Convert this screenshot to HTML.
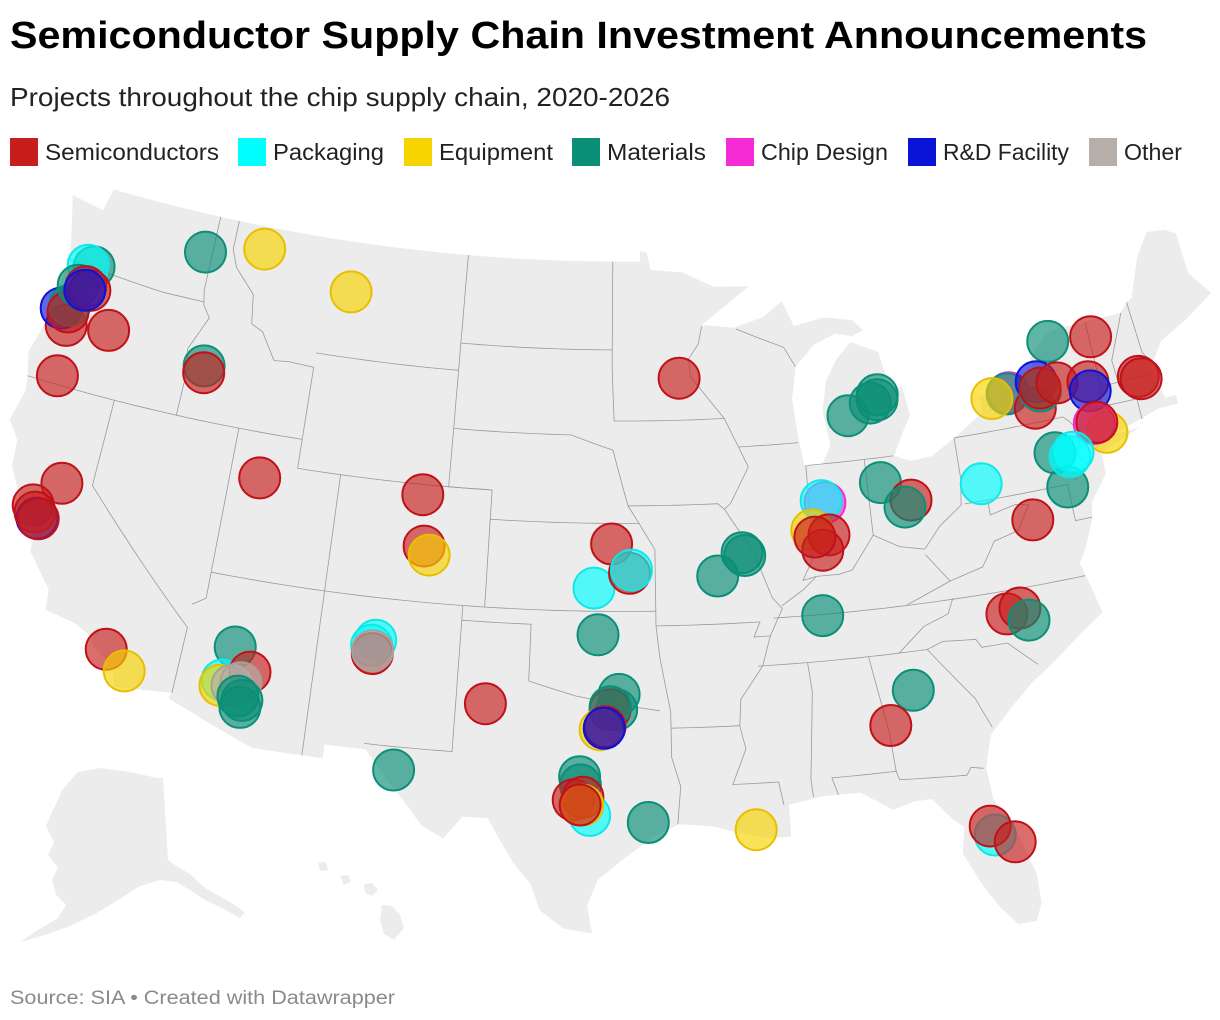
<!DOCTYPE html>
<html><head><meta charset="utf-8"><style>
html,body{margin:0;padding:0;background:#fff;}
svg{display:block;font-family:"Liberation Sans",Arial,sans-serif;}
</style></head><body>
<svg id="chart" width="1220" height="1020" viewBox="0 0 1220 1020" xmlns="http://www.w3.org/2000/svg">
<text x="10" y="48" font-size="38" font-weight="bold" fill="#000" textLength="1137" lengthAdjust="spacingAndGlyphs">Semiconductor Supply Chain Investment Announcements</text>
<text x="10" y="106" font-size="26" fill="#222" textLength="660" lengthAdjust="spacingAndGlyphs">Projects throughout the chip supply chain, 2020-2026</text>
<g id="legend"></g>
<g id="insets">
<path fill="#ececec" d="M62,790 L78,772 L100,768 L130,772 L157,778 L163,778 L168,860 L176,866 L190,874 L205,888 L230,902 L245,912 L240,918 L222,908 L205,900 L190,890 L176,882 L160,880 L140,886 L118,900 L95,914 L70,926 L45,935 L20,942 L38,930 L58,918 L66,905 L56,895 L52,880 L58,868 L48,855 L54,842 L46,826 L52,812 L58,800 Z"/>
<path fill="#ececec" d="M382,905 L392,906 L400,915 L404,928 L394,940 L384,934 L380,920 Z"/>
<path fill="#ececec" d="M364,884 L372,883 L378,890 L372,896 L365,893 Z"/>
<path fill="#ececec" d="M340,876 L348,875 L351,882 L344,885 Z"/>
<path fill="#ececec" d="M318,863 L326,862 L328,870 L320,871 Z"/>
</g>
<g id="map"></g>
<g id="dots"></g>
<text x="10" y="1004" font-size="19" fill="#8a8a8a" textLength="385" lengthAdjust="spacingAndGlyphs">Source: SIA • Created with Datawrapper</text>
</svg>
<script>
// ---- data ----
const categories = ["Semiconductors","Packaging","Equipment","Materials","Chip Design","R&D Facility","Other"];
const categoryColors = ["#c71e1d","#00ffff","#f7d300","#0b8f77","#f52bd6","#0a14d6","#b5aea9"];
const categoryStrokes = ["#c0111a","#10e8e8","#e6c000","#0b8f77","#f52bd6","#0a14d6","#a8a09b"];
const dotCat = [0,0,5,3,0,3,1,3,0,0,5,
 0,3,2,2,3,0,0,0,0,5,0,0,0,2,
 3,1,2,0,6,6,3,3,3,
 1,1,0,6,3,0,0,2,0,
 3,3,0,3,2,0,5,
 3,1,0,0,1,
 3,3,1,0,0,2,0,
 3,2,3,3,3,0,3,
 3,3,3,3,
 4,1,2,0,0,0,
 3,0,3,1,
 3,0,4,3,2,
 0,5,3,0,0,0,5,0,0,
 2,4,0,
 3,3,1,1,0,
 0,0,3,3,0,
 1,0,0];
const dotLat = [44.03,44.26,44.55,44.73,44.49,46.23,46.23,45.47,45.50,45.41,45.37,
 42.29,47.69,48.22,47.26,43.85,43.62,40.46,38.80,37.83,37.43,37.61,37.42,33.68,33.10,
 34.64,33.45,33.26,33.88,33.33,33.47,33.00,32.63,32.88,
 35.55,35.36,35.08,35.18,31.20,40.65,38.91,38.62,33.71,
 34.17,33.65,33.65,33.75,32.96,33.06,33.01,
 36.20,37.79,39.30,38.30,38.41,
 31.34,31.06,30.02,30.54,30.64,30.37,30.37,
 29.78,29.41,38.89,38.79,38.14,44.94,36.55,
 43.25,43.59,43.84,43.67,
 40.38,40.46,39.49,39.27,38.77,39.24,
 40.85,40.12,39.91,40.30,
 44.64,44.46,43.19,43.16,43.10,
 42.49,43.37,43.03,43.13,43.18,42.98,42.66,42.74,42.64,
 41.15,41.54,41.56,
 40.86,39.63,40.62,40.75,38.77,
 35.78,35.90,35.44,33.68,32.58,
 28.37,28.70,28.03];
const dotLon = [-123.14,-121.11,-123.61,-123.25,-123.24,-122.63,-122.93,-123.13,-122.75,-122.51,-122.75,
 -122.87,-117.40,-114.48,-109.79,-116.25,-116.20,-112.69,-121.34,-122.31,-121.99,-122.14,-121.93,-117.74,-116.81,
 -112.46,-112.76,-112.81,-111.67,-112.32,-111.97,-112.00,-111.84,-111.81,
 -106.60,-106.75,-106.68,-106.68,-105.30,-105.20,-104.92,-104.66,-101.76,
 -96.19,-96.29,-96.56,-96.56,-96.97,-96.77,-96.80,
 -97.10,-97.30,-96.54,-95.74,-95.65,
 -97.78,-97.74,-97.35,-98.02,-97.63,-97.63,-97.74,
 -95.02,-90.76,-90.71,-90.60,-91.84,-93.30,-87.38,
 -85.32,-84.20,-83.82,-83.86,
 -86.81,-86.97,-87.52,-86.77,-87.11,-87.41,
 -84.19,-82.91,-83.22,-79.64,
 -75.28,-73.21,-77.62,-77.70,-78.45,
 -76.53,-76.23,-76.13,-76.11,-75.28,-73.84,-73.83,-71.47,-71.37,
 -73.52,-74.00,-73.87,
 -76.06,-75.82,-75.43,-75.25,-77.65,
 -79.51,-78.92,-78.63,-83.90,-85.00,
 -81.45,-81.59,-80.72];

// ---- projection (Albers conic) ----
const DEG = Math.PI/180, PN = 0.60285, PC = 1.3513, RHO0 = 1.3033, PK = 1665, PTX = 623.6, PTY = 596.8;
function proj(lon, lat){
  const r = Math.sqrt(PC - 2*PN*Math.sin(lat*DEG))/PN;
  const t = PN*(lon+96)*DEG;
  return [PTX + PK*r*Math.sin(t), PTY - PK*(RHO0 - r*Math.cos(t))];
}
function densify(pts){
  const out=[];
  for(let i=0;i<pts.length;i++){
    const a=pts[i]; out.push(a);
    const b=pts[i+1]; if(!b) break;
    const d=Math.max(Math.abs(b[0]-a[0]),Math.abs(b[1]-a[1]));
    const n=Math.ceil(d/0.5);
    for(let k=1;k<n;k++) out.push([a[0]+(b[0]-a[0])*k/n, a[1]+(b[1]-a[1])*k/n]);
  }
  return out;
}
function pathOf(pts, close){
  return densify(pts).map((p,i)=>{const q=proj(p[0],p[1]);return (i?'L':'M')+q[0].toFixed(1)+','+q[1].toFixed(1);}).join('')+(close?'Z':'');
}
const NS='http://www.w3.org/2000/svg';

// ---- outline ----
const outline=[[-122.75,49],[-95.15,49],[-95.15,49.38],[-94.8,49.3],[-94.6,48.7],[-93.0,48.6],[-91.4,48.05],[-89.6,48.0],[-92.1,46.75],
[-90.5,46.6],[-89,46.9],[-88,47.4],[-87.5,46.5],[-86,46.7],[-84.6,46.5],[-84.1,46.1],[-84.7,45.95],[-85.5,46.1],[-86.6,45.8],[-87.6,45.1],
[-87.9,44.0],[-87.8,43.0],[-87.6,41.7],[-86.8,41.65],[-86.3,42.3],[-86.5,43.5],[-86.2,44.5],[-85.6,45.2],[-84.8,45.75],[-83.5,45.3],
[-83.3,44.5],[-83.9,43.9],[-83.4,43.95],[-82.6,44.0],[-82.4,43.0],[-82.9,42.4],[-83.4,41.7],[-82.7,41.45],[-81.7,41.5],[-80.5,42.0],
[-79.0,42.7],[-79.05,43.25],[-77.5,43.25],[-76.2,43.55],[-76.3,44.2],[-75.3,44.9],[-74.7,45.0],[-71.5,45.0],[-71.1,45.3],[-70.8,45.4],
[-70.2,46.4],[-70.0,46.7],[-69.2,47.45],[-68.3,47.35],[-67.8,47.1],[-67.8,45.7],[-67.0,44.8],[-68.5,44.2],[-70.0,43.7],[-70.7,43.0],
[-70.8,42.6],[-70.5,41.8],[-70.0,41.8],[-70.0,41.5],[-71.0,41.5],[-71.9,41.3],[-73.6,41.0],[-72.0,41.05],[-73.7,40.6],[-74.0,40.5],
[-74.0,39.8],[-74.9,38.95],[-75.05,38.4],[-75.6,37.5],[-76.0,37.0],[-75.7,36.0],[-75.5,35.2],[-76.5,34.7],[-77.9,33.9],[-79.0,33.3],
[-80.0,32.6],[-81.0,31.8],[-81.4,30.7],[-81.3,29.6],[-80.6,28.4],[-80.1,26.8],[-80.1,25.8],[-80.4,25.2],[-81.1,25.2],[-81.7,25.9],
[-82.2,26.7],[-82.8,27.9],[-82.6,28.8],[-83.0,29.1],[-83.7,29.9],[-84.4,29.9],[-85.3,29.7],[-86.5,30.4],[-88.0,30.4],[-89.4,30.2],
[-89.4,29.1],[-90.2,29.1],[-91.3,29.3],[-92.5,29.6],[-93.8,29.7],[-94.8,29.3],[-95.9,28.6],[-97.0,27.8],[-97.4,26.9],[-97.2,25.95],
[-98.3,26.1],[-99.2,26.7],[-99.6,27.6],[-100.3,28.3],[-101.4,29.8],[-102.4,29.8],[-103.1,29.0],[-104.0,29.4],[-104.7,30.1],[-105.6,30.9],
[-106.5,31.8],[-108.2,31.8],[-108.2,31.33],[-111.1,31.33],[-114.8,32.5],[-114.7,32.7],[-117.1,32.5],[-117.3,33.1],[-118.3,33.7],[-118.5,34.0],
[-119.3,34.3],[-120.6,34.5],[-120.7,35.2],[-121.9,36.3],[-121.9,36.9],[-122.4,37.2],[-122.5,37.8],[-123.0,38.0],[-123.7,38.9],[-123.8,39.8],
[-124.4,40.4],[-124.1,41.5],[-124.2,42.0],[-124.5,42.8],[-124.1,44.0],[-123.9,46.2],[-124.1,46.9],[-124.7,48.4],[-123.0,48.2],[-122.75,49]];
const borders=[
[[-124,46.25],[-119,46.0],[-116.9,46.0]],
[[-117.04,49],[-117.04,46.4],[-116.9,45.9],[-116.5,45.5],[-117.2,44.3],[-117.0,43.7],[-117.03,42]],
[[-124.2,42],[-111.05,42]],
[[-120,42],[-120,39],[-114.6,35.0],[-114.7,32.7]],
[[-114.05,42],[-114.05,36.1],[-114.6,35.8]],
[[-116.05,49],[-116.05,47.98],[-115.7,47.4],[-114.6,46.6],[-114.4,45.6],[-113.8,45.4],[-113.0,44.5],[-112.3,44.55],[-111.05,44.5],[-111.05,41],[-109.05,41],[-109.05,31.33]],
[[-111.05,45],[-104.05,45]],
[[-109.05,41],[-102.05,41],[-102.05,37]],
[[-114.05,37],[-94.6,37]],
[[-103,37],[-103,32],[-106.6,32]],
[[-103,36.5],[-100,36.5],[-100,34.56],[-98,34.1],[-96,33.8],[-94.5,33.6]],
[[-94.6,37],[-94.6,36.5],[-94.45,35.4],[-94.04,33.55],[-94.04,32],[-93.7,31],[-93.85,29.7]],
[[-104.05,49],[-104.05,41],[-102.05,41]],
[[-104.05,45.94],[-96.56,45.94]],
[[-104.05,43],[-98.5,43],[-96.5,42.5],[-95.8,40.6],[-95.3,40],[-102.05,40]],
[[-96.56,49],[-96.56,45.3],[-96.45,43.5],[-91.2,43.5]],
[[-95.8,40.6],[-91.7,40.6],[-91.4,40.4]],
[[-92.1,46.7],[-92.3,46.1],[-92.8,45.6],[-92.75,45.0],[-91.2,43.5],[-90.6,42.5],[-90.2,41.8],[-91.1,40.6],[-91.4,40.4],[-90.2,38.9],[-89.5,37.3],[-89.1,36.9],[-89.7,36.0],[-90.1,35],[-91.1,33.9],[-91.2,33.0],[-91.0,32.2],[-91.6,31.0],[-89.75,31.0],[-89.6,30.2]],
[[-95.3,40],[-94.6,39.1],[-94.6,37]],
[[-94.6,36.5],[-90.1,36.5],[-90.4,36.0],[-89.7,36.0]],
[[-94.04,33.0],[-91.2,33.0]],
[[-90.6,42.5],[-87.8,42.5]],
[[-90.4,46.55],[-88.1,45.8],[-87.6,45.1]],
[[-87.53,41.7],[-87.53,39.3],[-87.6,38.5],[-88.1,37.8],[-87.5,37.9]],
[[-87.5,41.7],[-83.45,41.7]],
[[-84.8,41.7],[-84.8,39.1]],
[[-89.1,37.0],[-88.1,37.5],[-87.5,37.9],[-86.5,37.9],[-85.9,38.0],[-84.8,39.1],[-83.7,38.6],[-82.6,38.4],[-81.8,39.1],[-80.7,39.7],[-80.52,40.6],[-80.52,42.0]],
[[-80.5,42],[-75.35,42],[-75.1,41.8],[-74.7,41.35],[-75.1,40.6],[-74.7,40.2],[-75.5,39.8]],
[[-80.52,39.72],[-75.8,39.72],[-75.8,38.45],[-75.05,38.45]],
[[-79.48,39.72],[-79.48,39.2],[-78.3,39.4],[-77.7,39.3],[-78.4,38.5],[-79.5,38.3],[-80.2,37.5],[-81.7,37.2],[-82.6,38.2]],
[[-89.5,36.6],[-75.9,36.55]],
[[-81.7,37.2],[-83.7,36.6]],
[[-81.7,36.6],[-82.0,36.1],[-83.1,35.8],[-84.3,35.0]],
[[-90.3,35.0],[-83.1,35.0],[-82.4,35.2],[-81.0,35.1],[-80.8,34.8],[-79.7,34.8],[-78.6,33.9]],
[[-83.1,35.0],[-82.2,34.0],[-81.4,33.1],[-80.9,32.05]],
[[-88.2,35.0],[-88.1,34],[-88.45,31],[-88.4,30.4]],
[[-85.6,35],[-85.1,32.4],[-85.0,31.0],[-87.6,31.0],[-87.4,30.4]],
[[-85.0,31.0],[-84.9,30.7],[-82.2,30.55],[-82.0,30.8],[-81.5,30.7]],
[[-73.3,45],[-73.3,42.75],[-73.5,42.05],[-73.5,41.3],[-73.7,41.1]],
[[-73.5,42.05],[-71.4,42.0]],
[[-71.8,42.0],[-71.8,41.3]],
[[-71.5,45.0],[-72.5,43.5],[-72.45,42.73]],
[[-73.3,42.72],[-70.8,42.72]],
[[-71.1,45.3],[-71.0,43.5],[-70.7,43.1]]
];
const mapG=document.getElementById('map');
const land=document.createElementNS(NS,'path');
land.setAttribute('d',pathOf(outline,true));
land.setAttribute('fill','#ececec');


mapG.appendChild(land);
borders.forEach(b=>{
  const p=document.createElementNS(NS,'path');
  p.setAttribute('d',pathOf(b,false));
  p.setAttribute('fill','none');
  p.setAttribute('stroke','#9a9a9a');
  p.setAttribute('stroke-width','0.8');
  
  
  mapG.appendChild(p);
});

// ---- legend ----
const legendX=[10,238,404,572,726,908,1089];
const legendW=[174,111,114,99,127,126,58];
const lg=document.getElementById('legend');
categories.forEach((c,i)=>{
  const g=document.createElementNS(NS,'g');
  
  
  const r=document.createElementNS(NS,'rect');
  r.setAttribute('x',legendX[i]);r.setAttribute('y',138);r.setAttribute('width',28);r.setAttribute('height',28);
  r.setAttribute('fill',categoryColors[i]);
  
  
  const t=document.createElementNS(NS,'text');
  t.setAttribute('x',legendX[i]+35);t.setAttribute('y',160);t.setAttribute('font-size','23');t.setAttribute('fill','#222');
  t.setAttribute('textLength',legendW[i]);t.setAttribute('lengthAdjust','spacingAndGlyphs');
  t.textContent=c;
  
  
  g.appendChild(r);g.appendChild(t);lg.appendChild(g);
});

// ---- dots ----
const dg=document.getElementById('dots');
dotLat.forEach((lat,i)=>{
  const q=proj(dotLon[i],lat);
  const c=document.createElementNS(NS,'circle');
  c.setAttribute('cx',q[0].toFixed(1));c.setAttribute('cy',q[1].toFixed(1));c.setAttribute('r',20.5);
  c.setAttribute('fill',categoryColors[dotCat[i]]);c.setAttribute('fill-opacity','0.65');
  c.setAttribute('stroke',categoryStrokes[dotCat[i]]);c.setAttribute('stroke-width','2');
  
  
  dg.appendChild(c);
});
</script>
</body></html>
